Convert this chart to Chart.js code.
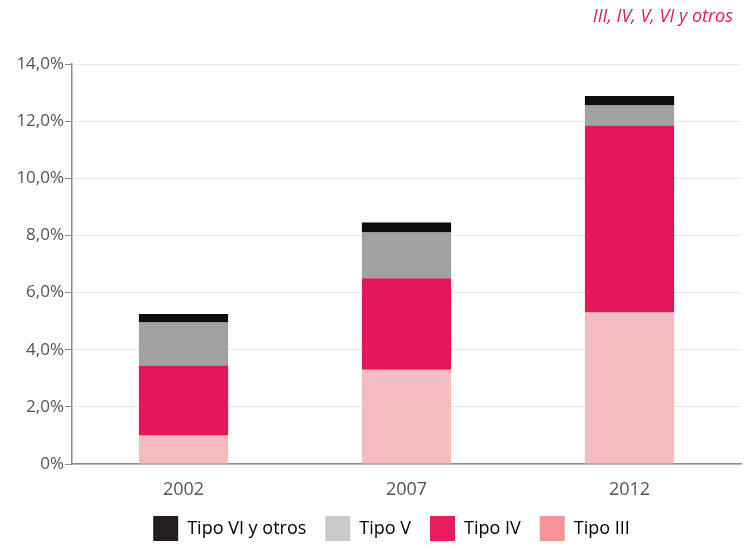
<!DOCTYPE html>
<html>
<head>
<meta charset="utf-8">
<script src="https://cdn.jsdelivr.net/npm/chart.js@4/dist/chart.umd.min.js"></script>
<style>
  html, body { margin: 0; padding: 0; background: #fff; }
  #wrap { width: 750px; height: 547px; }
</style>
</head>
<body>
<div id="wrap"><canvas id="myChart"></canvas></div>
<script>
const years = ['2002', '2007', '2012'];
const seriesNames = ['Tipo III', 'Tipo IV', 'Tipo V', 'Tipo VI y otros'];
const tipoIII = [1.0, 3.3, 5.3];
const tipoIV = [2.45, 3.2, 6.55];
const tipoV = [1.5, 1.6, 0.7];
const tipoVI = [0.3, 0.35, 0.33];
const barColors = ['#f5bcc0', '#e5175c', '#a1a1a1', '#0d0d0d'];
const legendColors = ['#f4959a', '#ec1c5c', '#cccac9', '#231f20'];
const headline = 'III, IV, V, VI y otros';

const font = '"Open Sans", "Noto Sans", sans-serif';

function fmt(v) {
    if (v === 0) return '0%';
    return v.toFixed(1).replace('.', ',') + '%';
}

// italic note in the top right corner
const cornerTitle = {
    id: 'cornerTitle',
    afterDraw(c) {
        const g = c.ctx;
        g.save();
        g.font = 'italic 18px ' + font;
        g.fillStyle = '#e5175c';
        g.textAlign = 'right';
        g.textBaseline = 'middle';
        g.fillText(headline, 733, 17);
        g.restore();
    }
};

// nudge the legend a bit to the right
const legendShift = {
    id: 'legendShift',
    afterLayout(c) {
        c.legend.left += 21;
        c.legend.right += 21;
    }
};

const ctx = document.getElementById('myChart').getContext('2d');
const chart = new Chart(ctx, {
    type: 'bar',
    data: {
        labels: years,
        datasets: [tipoIII, tipoIV, tipoV, tipoVI].map((d, i) => ({
            label: seriesNames[i],
            data: d,
            backgroundColor: barColors[i],
            borderWidth: 0,
            barPercentage: 0.4,
            categoryPercentage: 1
        }))
    },
    plugins: [cornerTitle, legendShift],
    options: {
        responsive: true,
        maintainAspectRatio: false,
        animation: false,
        layout: { padding: { left: 0, right: 9, top: 64, bottom: -4 } },
        scales: {
            x: {
                stacked: true,
                afterFit: s => { s.height = 33; },
                grid: { display: false, drawTicks: false },
                border: { color: '#8c8c8c', width: 1.5 },
                ticks: { color: '#555', font: { family: font, size: 18 }, padding: 15 }
            },
            y: {
                stacked: true,
                min: 0,
                max: 14,
                afterFit: s => { s.width = 72; },
                grid: { color: '#e8e8e8', tickColor: '#8c8c8c', tickLength: 7 },
                border: { color: '#8c8c8c', width: 1.5 },
                ticks: {
                    stepSize: 2,
                    color: '#555',
                    padding: 1,
                    font: { family: font, size: 17 },
                    callback: v => fmt(v)
                }
            }
        },
        plugins: {
            legend: {
                position: 'bottom',
                reverse: true,
                labels: {
                    boxWidth: 25,
                    boxHeight: 25,
                    padding: 19,
                    color: '#231f20',
                    font: { family: font, size: 18 },
                    generateLabels: c => c.data.datasets.map((ds, i) => ({
                        text: ds.label,
                        fillStyle: legendColors[i],
                        strokeStyle: legendColors[i],
                        lineWidth: 0,
                        datasetIndex: i,
                        hidden: false
                    }))
                }
            },
            tooltip: { enabled: false }
        }
    }
});
</script>
</body>
</html>
